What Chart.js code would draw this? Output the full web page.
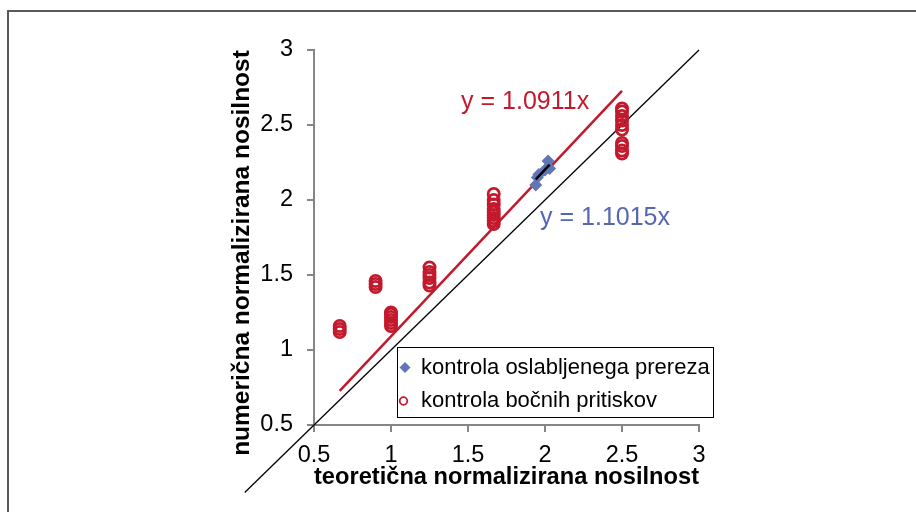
<!DOCTYPE html>
<html>
<head>
<meta charset="utf-8">
<script src="https://cdn.jsdelivr.net/npm/chart.js@4"></script>
<style>
    body { margin: 0; background: #fff; overflow: hidden; }
    #wrap { position: relative; width: 916px; height: 512px; overflow: hidden; }
    #frame { position: absolute; left: 7px; top: 10px; width: 960px; height: 560px; border: 2px solid #5a5a5a; }
    #box { position: absolute; left: 0; top: 0; width: 916px; height: 512px; }
</style>
</head>
<body>
<div id="wrap">
    <div id="frame"></div>
    <div id="box"><canvas id="nosilnost"></canvas></div>
</div>
<script>
// kontrola bočnih pritiskov
const bocniX = [
    0.667, 0.667, 0.667,
    0.9, 0.9, 0.9,
    1, 1, 1, 1, 1, 1,
    1.25, 1.25, 1.25, 1.25, 1.25, 1.25,
    1.667, 1.667, 1.667, 1.667, 1.667, 1.667, 1.667, 1.667, 1.667,
    2.5, 2.5, 2.5, 2.5, 2.5, 2.5, 2.5, 2.5, 2.5, 2.5
];
const bocniY = [
    1.12, 1.14, 1.16,
    1.42, 1.44, 1.46,
    1.16, 1.18, 1.20, 1.22, 1.24, 1.25,
    1.43, 1.45, 1.48, 1.50, 1.52, 1.55,
    1.84, 1.86, 1.88, 1.90, 1.92, 1.94, 1.97, 2.00, 2.04,
    2.31, 2.33, 2.36, 2.38, 2.47, 2.50, 2.53, 2.56, 2.59, 2.61
];

// kontrola oslabljenega prereza
const prerezX = [1.94, 1.95, 1.96, 2.00, 2.02, 2.03];
const prerezY = [2.10, 2.15, 2.17, 2.20, 2.26, 2.21];

// linear fits through the origin
const bocniSlope = 1.0911;
const prerezSlope = 1.1015;
const bocniFitX = [0.667, 2.5];
const prerezFitX = [1.94, 2.03];
const diagX = [0.05, 3];

const axisTicks = [0.5, 1, 1.5, 2, 2.5, 3];
const tickLabels = ['0.5', '1', '1.5', '2', '2.5', '3'];

const RED = '#c3192d';
const BLUE = '#6276b6';
const BLUE_TXT = '#5567b0';
const AXIS = '#868686';
const FONT = "'Liberation Sans', Arial, sans-serif";

const toPoints = (xs, ys) => xs.map((x, i) => ({ x, y: ys[i] }));
const fitPoints = (xs, k) => xs.map(x => ({ x, y: k * x }));
const tickText = v => tickLabels[axisTicks.indexOf(v)] ?? String(v);

// legend box, equations and the rotated y title
const annotations = {
    id: 'annotations',
    afterDatasetsDraw(chart) {
        const { ctx, scales } = chart;
        const sx = scales.x, sy = scales.y;
        ctx.save();

        ctx.font = '25px ' + FONT;
        ctx.textAlign = 'left';
        ctx.textBaseline = 'middle';
        ctx.fillStyle = RED;
        ctx.fillText('y = ' + bocniSlope + 'x', sx.getPixelForValue(1.455), sy.getPixelForValue(2.653));
        ctx.fillStyle = BLUE_TXT;
        ctx.fillText('y = ' + prerezSlope + 'x', sx.getPixelForValue(1.968), sy.getPixelForValue(1.88));

        // legend
        const lx = 397, ly = 347, lw = 316, lh = 70;
        ctx.fillStyle = '#fff';
        ctx.fillRect(lx, ly, lw, lh);
        ctx.strokeStyle = '#000';
        ctx.lineWidth = 1;
        ctx.strokeRect(lx + 0.5, ly + 0.5, lw, lh);

        ctx.fillStyle = BLUE;
        ctx.beginPath();
        ctx.moveTo(405, 362);
        ctx.lineTo(410.5, 367.5);
        ctx.lineTo(405, 373);
        ctx.lineTo(399.5, 367.5);
        ctx.closePath();
        ctx.fill();

        ctx.strokeStyle = RED;
        ctx.lineWidth = 1.8;
        ctx.beginPath();
        ctx.arc(403.5, 401, 3.8, 0, Math.PI * 2);
        ctx.stroke();

        ctx.fillStyle = '#000';
        ctx.font = '22px ' + FONT;
        ctx.fillText('kontrola oslabljenega prereza', 421, 368);
        ctx.fillText('kontrola bočnih pritiskov', 421, 401);

        // y axis title
        ctx.translate(242, 253);
        ctx.rotate(-Math.PI / 2);
        ctx.font = 'bold 24.5px ' + FONT;
        ctx.textAlign = 'center';
        ctx.fillText('numerična normalizirana nosilnost', 0, 0);

        ctx.restore();
    }
};

const ctx = document.getElementById('nosilnost').getContext('2d');

new Chart(ctx, {
    type: 'scatter',
    data: {
        datasets: [
            {
                label: 'kontrola oslabljenega prereza',
                data: toPoints(prerezX, prerezY),
                pointStyle: 'rectRot',
                pointRadius: 6.5,
                backgroundColor: BLUE,
                borderColor: BLUE,
                borderWidth: 0,
                order: 1
            },
            {
                label: 'kontrola bočnih pritiskov',
                data: toPoints(bocniX, bocniY),
                pointStyle: 'circle',
                pointRadius: 5.6,
                backgroundColor: 'rgba(0,0,0,0)',
                borderColor: RED,
                borderWidth: 2.8,
                order: 2
            },
            {
                type: 'line',
                label: 'prerez fit',
                data: fitPoints(prerezFitX, prerezSlope),
                borderColor: '#000',
                borderWidth: 2.5,
                pointRadius: 0,
                order: 0
            },
            {
                type: 'line',
                label: 'bocni fit',
                data: fitPoints(bocniFitX, bocniSlope),
                borderColor: RED,
                borderWidth: 2.5,
                pointRadius: 0,
                order: 3
            },
            {
                type: 'line',
                label: 'y = x',
                data: fitPoints(diagX, 1),
                borderColor: '#000',
                borderWidth: 1.3,
                pointRadius: 0,
                clip: false,
                order: 4
            }
        ]
    },
    options: {
        responsive: true,
        maintainAspectRatio: false,
        animation: false,
        events: [],
        layout: {
            padding: { left: 0, right: 217, top: 50, bottom: 0 }
        },
        scales: {
            x: {
                type: 'linear',
                min: 0.5,
                max: 3,
                afterBuildTicks(scale) {
                    scale.ticks = axisTicks.map(v => ({ value: v }));
                },
                afterFit(scale) {
                    scale.height = 87;
                },
                border: { color: AXIS, width: 2 },
                grid: { drawOnChartArea: false, tickLength: 7, color: AXIS, lineWidth: 2 },
                ticks: {
                    color: '#000',
                    padding: 9,
                    font: { family: FONT, size: 23.5 },
                    callback: tickText
                },
                title: {
                    display: true,
                    text: 'teoretična normalizirana nosilnost',
                    color: '#000',
                    padding: { top: 0, bottom: 20 },
                    font: { family: FONT, size: 24.5, weight: 'bold' }
                }
            },
            y: {
                type: 'linear',
                min: 0.5,
                max: 3,
                afterBuildTicks(scale) {
                    scale.ticks = axisTicks.map(v => ({ value: v }));
                },
                afterFit(scale) {
                    scale.width = 314;
                },
                border: { color: AXIS, width: 2 },
                grid: { drawOnChartArea: false, tickLength: 7, color: AXIS, lineWidth: 2 },
                ticks: {
                    color: '#000',
                    padding: 14,
                    font: { family: FONT, size: 23.5 },
                    callback: tickText
                }
            }
        },
        plugins: {
            legend: { display: false },
            tooltip: { enabled: false }
        }
    },
    plugins: [annotations]
});
</script>
</body>
</html>
